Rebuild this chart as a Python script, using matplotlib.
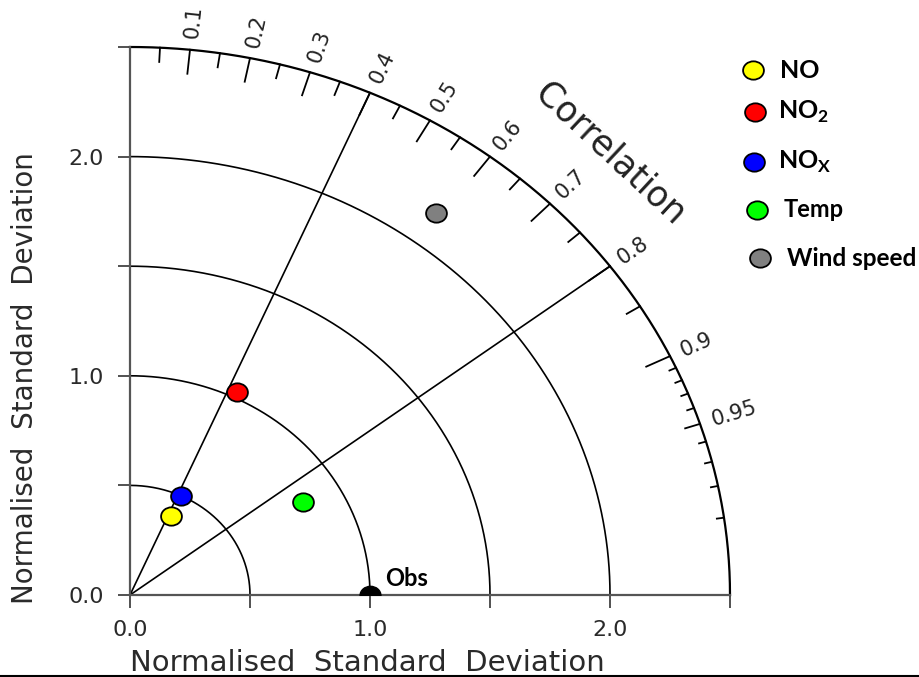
import numpy as np
import matplotlib
matplotlib.use("Agg")
import matplotlib.pyplot as plt
from matplotlib.lines import Line2D
from matplotlib.path import Path
from matplotlib.transforms import Affine2D

# normalised std dev and correlation of each model vs observations
names = ["NO", "NO$_\\mathbf{2}$", "NO$_\\mathbf{X}$", "Temp", "Wind speed"]
std_dev = [0.400, 1.027, 0.500, 0.837, 2.160]
correlation = [0.425, 0.435, 0.425, 0.861, 0.590]
colors = ["#ffff00", "#ff0000", "#0000ff", "#00ff00", "#808080"]
obs_std = 1.0

std_arcs = [0.5, 1.0, 1.5, 2.0]
std_max = 2.5
corr_lines = [0.4, 0.8]
corr_major = [0.1, 0.2, 0.3, 0.4, 0.5, 0.6, 0.7, 0.8, 0.9]
corr_mid = [0.05, 0.15, 0.25, 0.35, 0.45, 0.55, 0.65, 0.75, 0.85, 0.95]
corr_small = [0.91, 0.92, 0.93, 0.94, 0.96, 0.97, 0.98, 0.99]
corr_labels = corr_major + [0.95]

plt.rcParams["font.family"] = "DejaVu Sans"
plt.rcParams["mathtext.fontset"] = "custom"
plt.rcParams["mathtext.bf"] = "Lato:bold"
plt.rcParams["mathtext.rm"] = "Lato:bold"

fig = plt.figure(figsize=(9.2, 6.77), dpi=100)
ax = fig.add_axes([130 / 920, 82 / 677, 600 / 920, 548 / 677])
ax.set_xlim(0, std_max)
ax.set_ylim(0, std_max)

for s in ["top", "right"]:
    ax.spines[s].set_visible(False)
for s in ["left", "bottom"]:
    ax.spines[s].set_color("#555555")
    ax.spines[s].set_linewidth(1.6)

ticks = np.arange(0, std_max + 0.01, 0.5)
ticklabels = ["%.1f" % t if t in (0.0, 1.0, 2.0) else "" for t in ticks]
ax.set_xticks(ticks, ticklabels)
ax.set_yticks(ticks, ticklabels)
ax.tick_params(direction="out", length=9, width=1.2, color="#333333",
               labelsize=16, labelcolor="#2a2a2a")
ax.tick_params(axis="x", pad=9)
ax.tick_params(axis="y", pad=10)

axis_title = "Normalised  Standard  Deviation"
ax.set_xlabel(axis_title, fontsize=21, color="#2a2a2a", va="center")
ax.xaxis.set_label_coords(0.395, -0.124)
ax.set_ylabel(axis_title, fontsize=20, color="#2a2a2a", va="center")
ax.yaxis.set_label_coords(-0.175, 0.396)

# std dev arcs
theta = np.linspace(0, np.pi / 2, 300)
for r in std_arcs:
    ax.plot(r * np.cos(theta), r * np.sin(theta), color="k", lw=1.2, clip_on=False)
ax.plot(std_max * np.cos(theta), std_max * np.sin(theta), color="k", lw=1.6, clip_on=False)

# correlation lines
for c in corr_lines:
    a = np.arccos(c)
    ax.plot([0, std_max * np.cos(a)], [0, std_max * np.sin(a)], color="k", lw=1.2)

# correlation ticks along the outer arc
def corr_ticks(values, length):
    for c in values:
        a = np.arccos(c)
        r = np.array([std_max, std_max - length])
        ax.plot(r * np.cos(a), r * np.sin(a), color="k", lw=1.3, clip_on=False)

corr_ticks(corr_major, 0.11)
corr_ticks(corr_mid, 0.065)
corr_ticks(corr_small, 0.03)

origin_px = ax.transData.transform((0, 0))
for c in corr_labels:
    a = np.arccos(c)
    px = ax.transData.transform((np.cos(a), np.sin(a)))
    rot = np.degrees(np.arctan2(px[1] - origin_px[1], px[0] - origin_px[0]))
    r = std_max + 0.05
    ax.text(r * np.cos(a), r * np.sin(a), "%g" % c, rotation=rot,
            rotation_mode="anchor", ha="left", va="center", fontsize=15, color="#222222")

a = np.arccos(0.705)
ax.text(2.84 * np.cos(a), 2.84 * np.sin(a), "Correlation", rotation=-43,
        ha="center", va="center", fontsize=25, color="#222222")

# elliptical marker
ellipse = Path.unit_circle().transformed(Affine2D().scale(1.0, 0.88))

std_dev = np.array(std_dev)
correlation = np.array(correlation)
xs = std_dev * correlation
ys = std_dev * np.sin(np.arccos(correlation))
for x, y, col in zip(xs, ys, colors):
    ax.plot(x, y, marker=ellipse, markersize=15, mfc=col, mec="k", mew=1.3,
            linestyle="", zorder=5)

# reference point (lower half hidden under the axis)
ax.plot(obs_std, 0, marker=ellipse, markersize=15, mfc="k", mec="k", zorder=6)
ax.text(obs_std + 0.065, 0.075, "Obs", fontsize=17, family="Lato", weight="bold",
        ha="left", va="center")

# legend on the right
leg_y = [70, 112, 162, 210, 258]
leg_mx = [753, 755, 754, 757, 760]
leg_tx = [780, 778, 778, 784, 787]
leg_size = [18, 18, 18, 17, 17.5]
for i, name in enumerate(names):
    fig.add_artist(Line2D([leg_mx[i] / 920], [1 - leg_y[i] / 677], marker=ellipse,
                          markersize=15, mfc=colors[i], mec="k", mew=1.3,
                          transform=fig.transFigure))
    fig.text(leg_tx[i] / 920, 1 - leg_y[i] / 677, name, fontsize=leg_size[i],
             family="Lato", weight="bold", ha="left", va="center")

fig.add_artist(Line2D([0, 1], [1 / 677, 1 / 677], color="k", lw=1.5,
                      transform=fig.transFigure))

fig.savefig("out.png", dpi=100)
